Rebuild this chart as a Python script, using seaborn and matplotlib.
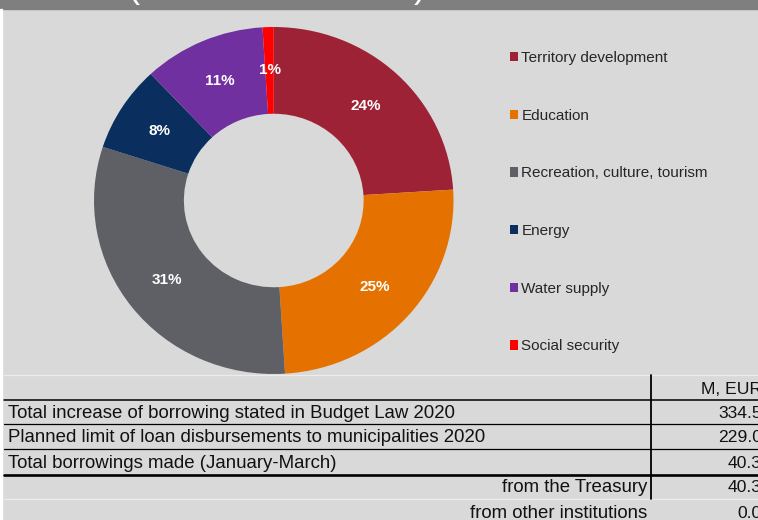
import matplotlib
matplotlib.use("Agg")
import matplotlib.pyplot as plt
from matplotlib.patches import Rectangle
from matplotlib.lines import Line2D
import seaborn as sns

# Borrowing purposes (share of total, %)
categories = ["Territory development", "Education", "Recreation, culture, tourism",
              "Energy", "Water supply", "Social security"]
shares = [24, 25, 31, 8, 11, 1]
colors_hex = ["#9e2236", "#e57200", "#5f6065", "#0a2f5f", "#7030a0", "#ff0000"]

# Borrowing summary table (M, EUR)
table_header = "M, EUR"
table_labels = ["Total increase of borrowing stated in Budget Law 2020",
                "Planned limit of loan disbursements to municipalities 2020",
                "Total borrowings made (January-March)",
                "from the Treasury",
                "from other institutions"]
table_values = [334.5, 229.0, 40.3, 40.3, 0.0]
table_indented = [False, False, False, True, True]

BG = "#d9d9d9"
W, H = 758, 520

sns.set_theme(style="white")
plt.rcParams["font.family"] = ["Liberation Sans", "DejaVu Sans"]
palette = sns.color_palette(colors_hex)

fig = plt.figure(figsize=(W / 100, H / 100), dpi=100, facecolor=BG)


def fx(px):
    return px / W


def fy(py):
    return 1 - py / H


# header band and left border strip
fig.patches.append(Rectangle((0, fy(9)), 1, 9 / H, transform=fig.transFigure,
                             color="#7f7f7f", zorder=0))
fig.patches.append(Rectangle((0, 0), fx(2), fy(9), transform=fig.transFigure,
                             color="white", zorder=0))
fig.text(fx(128), fy(-3), "(", color="white", fontsize=26, va="baseline")
fig.text(fx(414), fy(-3), ")", color="white", fontsize=26, va="baseline")

# donut chart
ax = fig.add_axes([fx(94), fy(374), fx(453.5) - fx(94), fy(27) - fy(374)])
ax.set_facecolor(BG)
wedges, _, autotexts = ax.pie(
    shares, colors=palette, startangle=90, counterclock=False, radius=1,
    autopct=lambda p: f"{p:.0f}%", pctdistance=0.75,
    wedgeprops=dict(width=0.5, linewidth=0, edgecolor="none"),
    textprops=dict(color="white", fontsize=11, fontweight="bold"),
)
ax.set_aspect("auto")
ax.set_xlim(-1, 1)
ax.set_ylim(-1, 1)
ax.axis("off")

fig.legend(wedges, categories, loc="upper left",
           bbox_to_anchor=(fx(510), fy(51)), bbox_transform=fig.transFigure,
           frameon=False, fontsize=11, borderpad=0, borderaxespad=0,
           handlelength=0.55, handleheight=0.55, handletextpad=0.2,
           labelspacing=2.86)

# summary table
line_color = "black"
faint = "#ececec"
fig.lines.append(Line2D([fx(4), 1], [fy(375), fy(375)], transform=fig.transFigure,
                        color=faint, lw=0.9))
fig.lines.append(Line2D([fx(4), 1], [fy(499), fy(499)], transform=fig.transFigure,
                        color=faint, lw=0.9))
for y_px, lw in [(400, 1.1), (424, 0.9), (449, 0.9), (475, 1.9)]:
    fig.lines.append(Line2D([fx(4), 1], [fy(y_px), fy(y_px)],
                            transform=fig.transFigure, color=line_color, lw=lw))
fig.lines.append(Line2D([fx(651), fx(651)], [fy(375), fy(499)],
                        transform=fig.transFigure, color=line_color, lw=1.3))

fig.text(fx(762), fy(390), table_header, ha="right", va="center",
         fontsize=12.6, color="#111111")
row_y = [413, 438, 463, 488, 513]
for lab, val, ind, y in zip(table_labels, table_values, table_indented, row_y):
    if ind:
        fig.text(fx(647), fy(y), lab, ha="right", va="center", fontsize=13.4,
                 color="#111111")
    else:
        fig.text(fx(8), fy(y), lab, ha="left", va="center", fontsize=13.4,
                 color="#111111")
    fig.text(fx(762), fy(y), f"{val:.1f}", ha="right", va="center",
             fontsize=12.6, color="#111111")

fig.savefig("out.png", dpi=100, facecolor=BG)
